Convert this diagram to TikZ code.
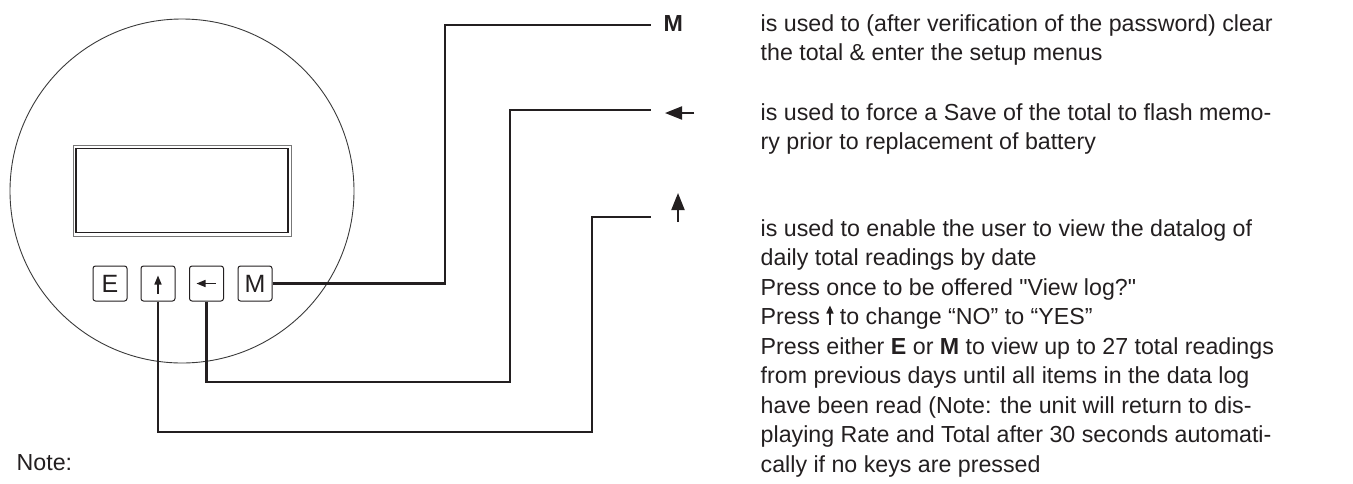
\documentclass[tikz,border=0pt]{standalone}
\usepackage{fontspec}
\setmainfont{Liberation Sans}
\newfontfamily\plainfont{Liberation Sans}
\usetikzlibrary{arrows.meta,calc}
\definecolor{ink}{HTML}{231F20}
\definecolor{rim}{HTML}{3A3A3A}
\definecolor{lcdout}{HTML}{777777}
\newcommand{\sq}{{\plainfont\symbol{34}}}
\begin{document}
\begin{tikzpicture}[x=1pt,y=-1pt,
  conn/.style={draw=ink, line width=2.2pt},
  keybtn/.style={draw=ink, line width=1pt, rounded corners=2.5pt,
    minimum width=34pt, minimum height=35pt, inner sep=0pt,
    font=\fontsize{25}{25}\selectfont, text=ink},
  txt/.style={anchor=base west, inner sep=0pt, align=left, text=ink,
    font=\fontsize{23.2}{29.5}\selectfont},
  sym/.style={draw=ink, fill=ink, line width=2pt, -{Triangle[length=17pt,width=13pt]}},
  btnsym/.style={draw=ink, fill=ink, line width=1.5pt, -{Triangle[length=9pt,width=7pt]}}]
\useasboundingbox (0,0) rectangle (1353,483);

% dial
\node[circle, draw=rim, line width=0.9pt, minimum size=344pt, inner sep=0pt] (dial) at (182,191) {};
\node[draw=lcdout, line width=1pt, minimum width=218pt, minimum height=91pt, inner sep=0pt] (lcdo) at (182,190.5) {};
\node[draw=ink, line width=1.5pt, minimum width=212pt, minimum height=84pt, inner sep=0pt] (lcdi) at (182,190.5) {};

% keys
\node[keybtn] (bE) at (110,283.5) {E};
\node[keybtn] (bU) at (158,283.5) {};
\node[keybtn] (bL) at (206.5,283.5) {};
\node[keybtn] (bM) at (255,283.5) {M};
\draw[btnsym] ($(bU.center)+(0,10)$) -- ($(bU.center)+(0,-8)$);
\draw[btnsym] ($(bL.center)+(9,0)$) -- ($(bL.center)+(-10,0)$);

% connector corners / ends
\coordinate (mA) at (445,25);   \coordinate (mEnd) at (651,25);
\coordinate (lA) at (510,382);  \coordinate (lEnd) at (651,110);
\coordinate (uA) at (592,432);  \coordinate (uEnd) at (651,217);

\draw[conn] (bM.east) -| (mA) -- (mEnd);
\draw[conn] (bL.south) |- (lA) |- (lEnd);
\draw[conn] (bU.south) |- (uA) |- (uEnd);

% key labels
\node[anchor=base west, inner sep=0pt, text=ink, font=\fontsize{23.2}{23.2}\selectfont\bfseries] (lblM) at (663.5,31) {M};
\draw[sym] (694,113) -- (665,113);
\draw[sym] (678,222) -- (678,193);

% descriptions (base anchor = baseline of the last line)
\node[txt] (t1) at (760.5,60.5) {is used to (after verification of the password) clear\\the total \& enter the setup menus};
\node[txt] (t2) at (760.5,149.5) {is used to force a Save of the total to flash memo-\\ry prior to replacement of battery};
\node[txt] (t3) at (760.5,472) {is used to enable the user to view the datalog of\\daily total readings by date\\Press once to be offered \sq View log?\sq\\Press \tikz[baseline=0pt]{\useasboundingbox (-3.5pt,0pt) rectangle (3.5pt,19pt);\draw[draw=ink,fill=ink,line width=1.4pt,-{Triangle[length=8pt,width=7pt]}] (0pt,0pt) -- (0pt,19pt);} to change “NO” to “YES”\\Press either \textbf{E} or \textbf{M} to view up to 27 total readings\\from previous days until all items in the data log\\have been read (Note: the unit will return to dis-\\playing Rate and Total after 30 seconds automati-\\cally if no keys are pressed};

\node[anchor=base west, inner sep=0pt, text=ink, font=\fontsize{23.2}{23.2}\selectfont] (note) at (16.5,470) {Note:};
\end{tikzpicture}
\end{document}
